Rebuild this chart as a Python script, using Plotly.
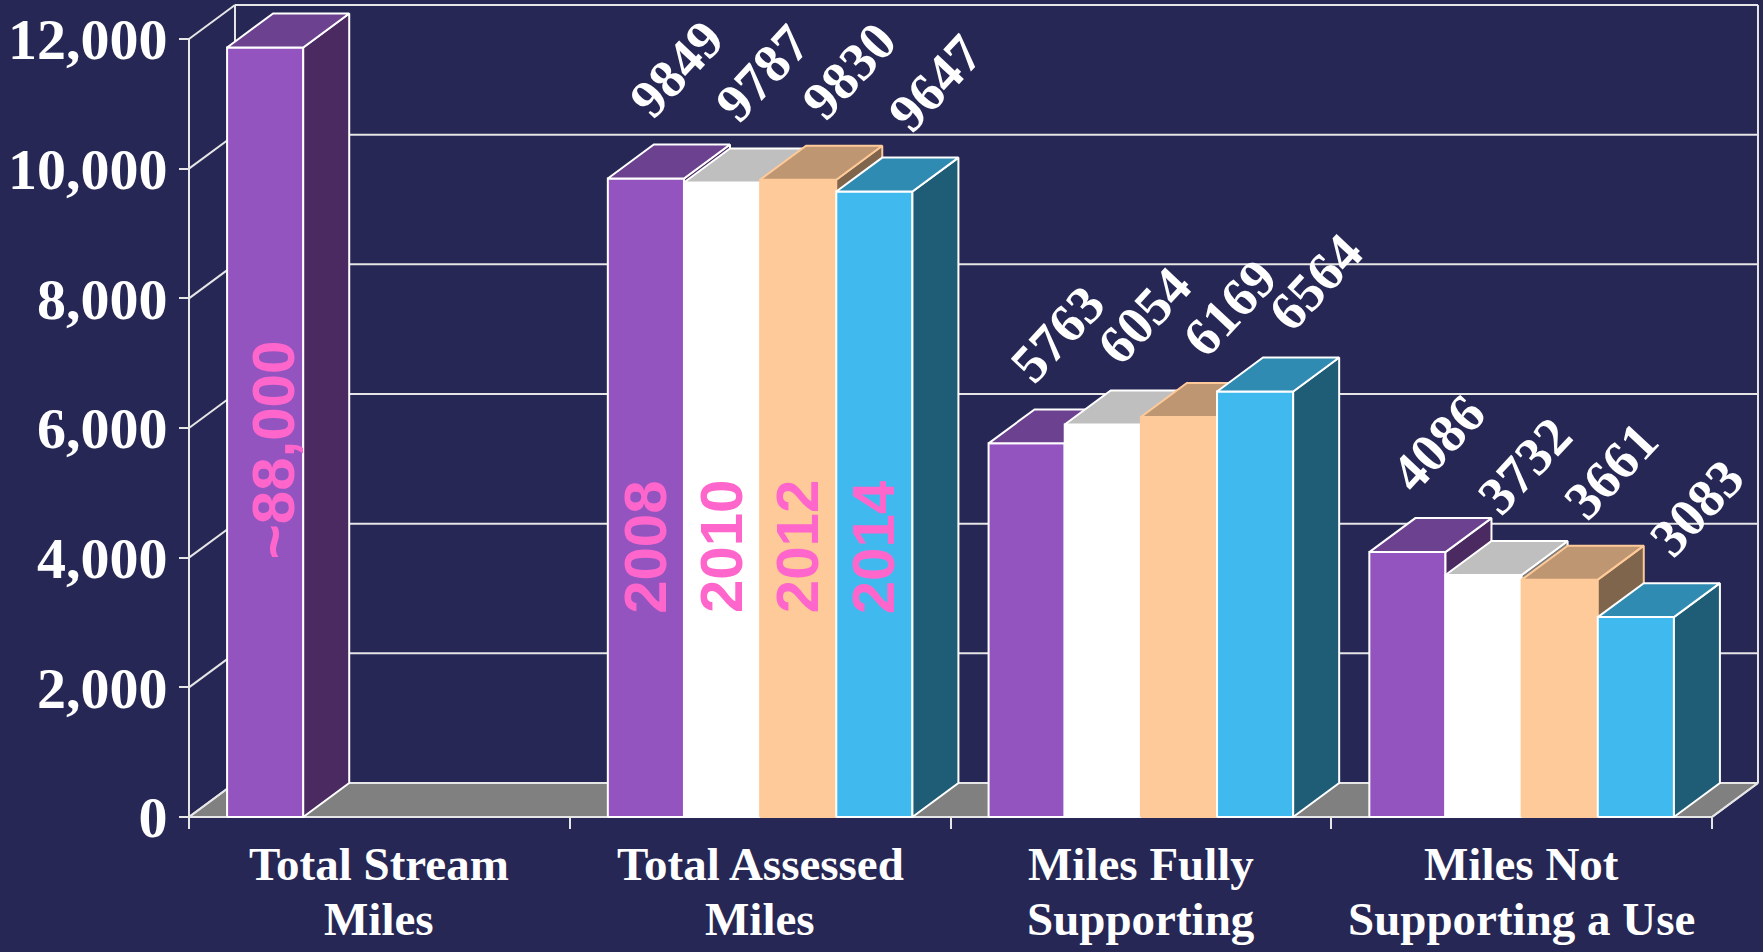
import plotly.graph_objects as go

# ---------------- data ----------------
categories = [["Total Stream", "Miles"], ["Total Assessed", "Miles"],
              ["Miles Fully", "Supporting"], ["Miles Not", "Supporting a Use"]]
years = ["2008", "2010", "2012", "2014"]
total_stream_label = "~88,000"
total_stream_drawn = 11870          # true value ~88,000, bar cut at the top of the scale
total_assessed = [9849, 9787, 9830, 9647]
fully_supporting = [5763, 6054, 6169, 6564]
not_supporting = [4086, 3732, 3661, 3083]
y_ticks = [0, 2000, 4000, 6000, 8000, 10000, 12000]

# ---------------- style ----------------
BG = "#262755"
GRID = "#E6E6E6"
FRONT = ["#9354C0", "#FFFFFF", "#FFCA99", "#40BAEE"]
TOP = ["#6C418F", "#BFBFBF", "#BF9672", "#308BB3"]
SIDE = ["#4B2A62", "#7F7F7F", "#7F654C", "#1F5D77"]
EDGE = ["#FFFFFF", "#FFFFFF", "#FFCA99", "#FFFFFF"]
PINK = "#FF66CC"
SERIF = "Liberation Serif"
SANS = "Liberation Sans"

SLOTS = 5            # bar slots per category (4 bars + gap)
NCAT = len(categories)
XW = NCAT * SLOTS    # width of front floor in bar units
DX, DY = 0.604, 524  # oblique depth offset (x units, value units)

fig = go.Figure()


def poly(xs, ys, fill, line, width=2):
    fig.add_trace(go.Scatter(x=xs + [xs[0]], y=ys + [ys[0]], mode="lines",
                             fill="toself", fillcolor=fill,
                             line=dict(color=line, width=width),
                             hoverinfo="skip", showlegend=False))


def seg(xs, ys, color=GRID, width=2):
    fig.add_trace(go.Scatter(x=xs, y=ys, mode="lines",
                             line=dict(color=color, width=width),
                             hoverinfo="skip", showlegend=False))


# floor
poly([0, XW, XW + DX, DX], [0, 0, DY, DY], "#808080", GRID)
# back wall gridlines and left wall diagonals
top = y_ticks[-1]
for v in y_ticks:
    seg([DX, XW + DX], [v + DY, v + DY])
    seg([0, DX], [v, v + DY])
seg([DX, DX], [DY, top + DY])
seg([XW + DX, XW + DX], [DY, top + DY])
seg([0, 0], [0, top])
seg([0, XW], [0, 0])
seg([XW, XW + DX], [0, DY])

# bars
bars = [(0, 0, total_stream_drawn, None)]
for ci, series in enumerate([total_assessed, fully_supporting, not_supporting], start=1):
    for s, v in enumerate(series):
        bars.append((ci, s, v, str(v)))

annotations = []
for ci, s, v, lab in bars:
    x0 = ci * SLOTS + 0.5 + s
    x1 = x0 + 1
    poly([x0, x1, x1, x0], [0, 0, v, v], FRONT[s], EDGE[s])
    poly([x1, x1 + DX, x1 + DX, x1], [0, DY, v + DY, v], SIDE[s], EDGE[s])
    poly([x0, x1, x1 + DX, x0 + DX], [v, v, v + DY, v + DY], TOP[s], EDGE[s])
    if lab:
        annotations.append(dict(x=x0 + 0.5 + DX / 2, y=v + DY / 2, xref="x", yref="y",
                                text="<b>%s</b>" % lab, showarrow=False, textangle=-47,
                                xanchor="center", yanchor="middle",
                                xshift=8 + 10 * s, yshift=92,
                                font=dict(family=SERIF, size=54, color="white")))

# pink in-bar labels
annotations.append(dict(x=SLOTS * 0 + 1.0, y=5660, xref="x", yref="y",
                        text="<b>%s</b>" % total_stream_label, showarrow=False,
                        textangle=-90, xshift=8,
                        font=dict(family=SANS, size=60, color=PINK)))
for s, yr in enumerate(years):
    annotations.append(dict(x=SLOTS * 1 + 1.0 + s, y=4165, xref="x", yref="y",
                            text="<b>%s</b>" % yr, showarrow=False, textangle=-90,
                            font=dict(family=SANS, size=60, color=PINK)))

# category labels (two lines each)
for ci, lines in enumerate(categories):
    for li, line in enumerate(lines):
        annotations.append(dict(x=ci * SLOTS + SLOTS / 2, y=0, xref="x", yref="y",
                                text="<b>%s</b>" % line, showarrow=False,
                                xanchor="center", yanchor="top", yshift=-19 - 55 * li,
                                font=dict(family=SERIF, size=47, color="white")))

# ---------------- layout ----------------
W, H = 1763, 952
L, R, T, B = 184, 1, 2, 128
px_per_x = 76.15
px_per_y = 0.064833
xmin = -(189 - L) / px_per_x
xmax = xmin + (W - L - R) / px_per_x
ymin = -((H - B) - 817) / px_per_y
ymax = ymin + (H - T - B) / px_per_y

fig.update_layout(
    width=W, height=H,
    margin=dict(l=L, r=R, t=T, b=B, pad=0),
    paper_bgcolor=BG, plot_bgcolor=BG,
    showlegend=False,
    annotations=annotations,
    xaxis=dict(range=[xmin, xmax], showgrid=False, zeroline=False, showline=False,
               tickvals=[i * SLOTS for i in range(NCAT + 1)], ticktext=[""] * (NCAT + 1),
               ticks="outside", ticklen=11, tickwidth=2, tickcolor=GRID,
               anchor="free", position=(0 - ymin) / (ymax - ymin), automargin=False,
               fixedrange=True),
    yaxis=dict(range=[ymin, ymax], showgrid=False, zeroline=False, showline=False,
               tickvals=y_ticks, tickformat=",d",
               ticks="outside", ticklen=10, tickwidth=2, tickcolor=GRID,
               tickfont=dict(family=SERIF, size=58, color="white", weight="bold"),
               anchor="free", position=(0 - xmin) / (xmax - xmin), automargin=False,
               fixedrange=True),
)

fig.write_html("out.html")
